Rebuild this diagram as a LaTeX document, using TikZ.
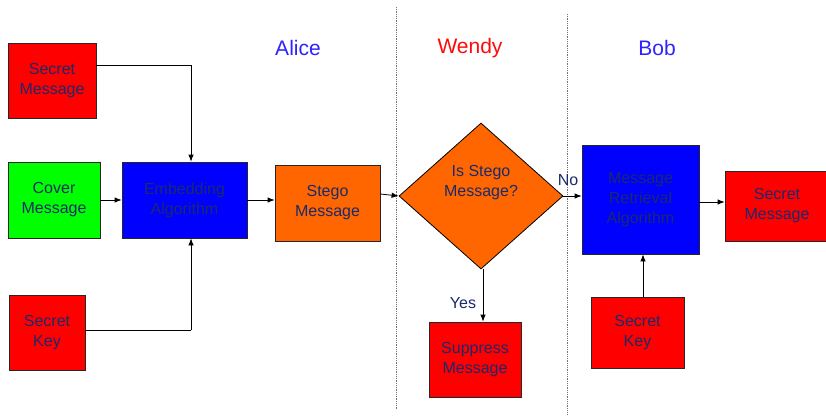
\documentclass[tikz,border=0pt]{standalone}
\usepackage{fontspec}
\setmainfont{Liberation Sans}
\usetikzlibrary{shapes.geometric,arrows.meta}
\definecolor{txtnavy}{HTML}{1B2A6B}
\definecolor{boxred}{HTML}{FF0000}
\definecolor{boxgreen}{HTML}{00FF00}
\definecolor{boxblue}{HTML}{0000FF}
\definecolor{boxorange}{HTML}{FF6600}
\definecolor{hdblue}{HTML}{2E22FF}
\definecolor{hdred}{HTML}{FF0A0A}
\tikzset{
  boxstyle/.style={draw=black!85, line width=0.8pt, inner sep=0pt, align=center,
    text=txtnavy, font=\fontsize{16}{20}\selectfont},
  arr/.style={draw=black, line width=0.8pt, -{Latex[length=7pt,width=5.5pt]}},
  ln/.style={draw=black, line width=0.8pt},
  header/.style={font=\fontsize{21}{24}\selectfont},
  lbl/.style={text=txtnavy, font=\fontsize{16}{20}\selectfont, inner sep=0pt},
  sep/.style={draw=black!55, densely dotted, line width=0.8pt}
}
\begin{document}
\begin{tikzpicture}[x=1pt,y=-1pt]
\useasboundingbox[fill=white] (0,0) rectangle (826,415);
% separators
\draw[sep] (396,7) -- (396,410);
\draw[sep] (567,14) -- (567,415);
% headers
\node[header, text=hdblue] (alice) at (298,48) {Alice};
\node[header, text=hdred] (wendy) at (470,48) {Wendy};
\node[header, text=hdblue] (bob) at (657,48) {Bob};
% boxes
\node[boxstyle, fill=boxred, minimum width=88pt, minimum height=75pt] (sm1) at (52,80.5) {Secret\\Message};
\node[boxstyle, fill=boxgreen, minimum width=92pt, minimum height=76pt] (cover) at (54,200) {Cover\\Message};
\node[boxstyle, fill=boxblue, minimum width=125pt, minimum height=76pt] (embed) at (184.5,200) {Embedding\\Algorithm};
\node[boxstyle, fill=boxorange, minimum width=105pt, minimum height=76pt] (stego) at (327.5,203) {Stego\\Message};
\node[boxstyle, fill=boxred, minimum width=76pt, minimum height=75pt] (sk1) at (47,332.5) {Secret\\Key};
\node[draw=black, line width=0.8pt, fill=boxorange, shape=diamond, inner sep=0pt,
  minimum width=164pt, minimum height=146pt] (dia) at (481,196) {};
\node[lbl, align=center] (diatext) at (481,183) {Is Stego\\Message?};
\node[boxstyle, fill=boxred, minimum width=92pt, minimum height=75pt] (supp) at (475,359.5) {Suppress\\Message};
\node[boxstyle, fill=boxblue, minimum width=117pt, minimum height=109pt] (retr) at (640.5,199.5) {Message\\Retrieval\\Algorithm};
\node[boxstyle, fill=boxred, minimum width=104pt, minimum height=70pt] (sm2) at (777,206) {Secret\\Message};
\node[boxstyle, fill=boxred, minimum width=93pt, minimum height=71pt] (sk2) at (637.5,332.5) {Secret\\Key};
% helper coordinates
\coordinate (c1) at (191,65);
\coordinate (c2) at (191,330);
\coordinate (c3) at (643,0);
\coordinate (c4) at (0,194);
\coordinate (c5) at (0,202);
% connectors
\draw[ln] (sm1.east |- c1) -- (c1);
\draw[arr] (c1) -- (c1 |- embed.north);
\draw[arr] (cover.east) -- (embed.west);
\draw[arr] (embed.east) -- (embed.east -| stego.west);
\draw[arr] (stego.east |- c4) -- (dia.west);
\draw[arr] (dia.east) -- (dia.east -| retr.west);
\draw[arr] (retr.east |- c5) -- (sm2.west |- c5);
\draw[arr] ([xshift=2pt]dia.south) -- ([xshift=2pt]dia.south |- supp.north);
\draw[ln] (sk1.east |- c2) -- (c2);
\draw[arr] (c2) -- (c2 |- embed.south);
\draw[arr] (c3 |- sk2.north) -- (c3 |- retr.south);
% labels
\node[lbl] (no) at (568,180) {No};
\node[lbl] (yes) at (463,303) {Yes};
\end{tikzpicture}
\end{document}
